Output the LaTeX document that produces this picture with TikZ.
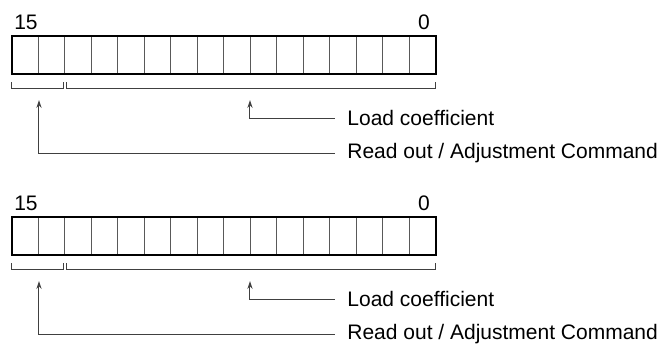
\documentclass[tikz,border=0pt]{standalone}
\usepackage{fontspec}
\setmainfont{Liberation Sans}
\usetikzlibrary{arrows.meta, positioning}
\tikzset{
  cell/.style={rectangle, draw=black!65, line width=0.5pt, minimum width=13.25pt, minimum height=19pt, inner sep=0pt, outer sep=0pt},
  regframe/.style={line width=1.1pt},
  bracket/.style={draw=black!75, line width=0.5pt},
  arrow/.style={-{Stealth[length=4pt, width=2.6pt]}, draw=black!75, line width=0.5pt},
  caption/.style={anchor=west, inner xsep=6pt, inner ysep=0pt, font=\fontsize{10.5}{12}\selectfont},
  bitnum/.style={inner sep=0pt, font=\fontsize{10.5}{12}\selectfont},
}

\begin{document}
\begin{tikzpicture}[x=0.5pt, y=-0.5pt]
    \useasboundingbox (0,0) rectangle (661,345);
    \foreach \r/\dy in {a/0, b/181} {
      % register cells, bit 15 on the left
      \foreach \b in {15,...,0}
        \node[cell] (\r\b) at ({12+(15-\b)*26.5+13.25}, {\dy+55}) {};
      \draw[regframe] (\r15.north west) rectangle (\r0.south east);
      \node[bitnum] (\r hi) at (26, {\dy+22}) {15};
      \node[bitnum] (\r lo) at (424, {\dy+22}) {0};
      % field brackets
      \draw[bracket] (12, {\dy+82}) |- (64, {\dy+88}) -- (64, {\dy+82});
      \draw[bracket] (67, {\dy+82}) |- (436, {\dy+88}) -- (436, {\dy+82});
      \coordinate (\r coeftip) at (250, {\dy+100});
      \coordinate (\r cmdtip) at (39, {\dy+100});
      \node[caption] (\r coef) at (335, {\dy+118}) {Load coefficient};
      \node[caption] (\r cmd) at (335, {\dy+153}) {Read out / Adjustment Command};
      \draw[arrow] (\r coef.west) -| (\r coeftip);
      \draw[arrow] (\r cmd.west) -| (\r cmdtip);
    }
\end{tikzpicture}
\end{document}
